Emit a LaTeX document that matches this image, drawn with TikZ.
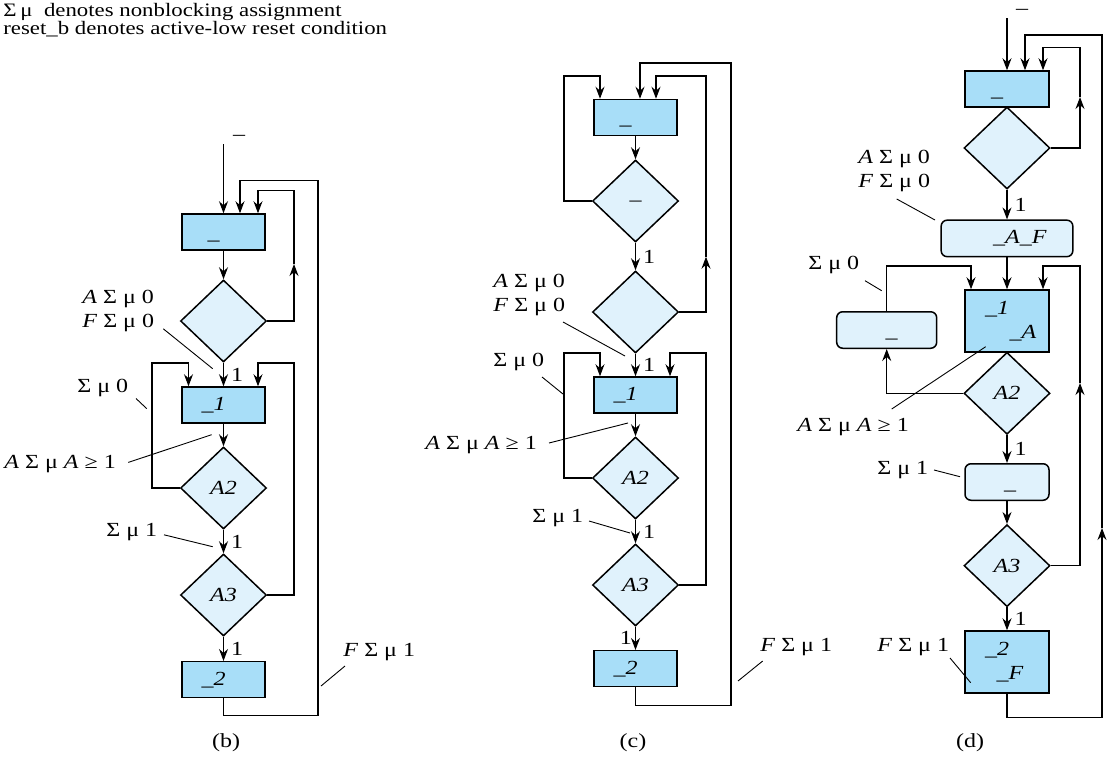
\documentclass[tikz,border=0pt]{standalone}
\usepackage{fontspec}
\setmainfont{Liberation Serif}[FakeStretch=1.2]
\usetikzlibrary{shapes.geometric,arrows.meta}

\definecolor{statefill}{RGB}{168,222,248}
\definecolor{testfill}{RGB}{224,242,252}

\newcommand{\lgap}{\hspace{0.3em}}
\newcommand{\asgn}[1]{Σ\lgap μ\lgap #1}

\tikzset{
  statebox/.style={draw, rectangle, fill=statefill, line width=1.5pt, minimum width=83pt, minimum height=36pt, inner sep=0pt},
  testbox/.style={draw, diamond, fill=testfill, line width=1.5pt, minimum width=86pt, minimum height=82pt, inner sep=0pt},
  condbox/.style={draw, rectangle, rounded corners=6pt, fill=testfill, line width=1.5pt, minimum height=36.5pt, inner sep=0pt},
  lowtext/.style={text height=14pt, text depth=0pt},
  topmark/.style={inner sep=0pt, text height=3pt, text depth=0pt},
  flowarrow/.style={-{Stealth[length=12pt,width=9pt,inset=4pt]}, line width=1.1pt},
  leader/.style={line width=0.9pt},
  note/.style={align=left, inner sep=0pt},
  branch/.style={inner sep=2pt},
}

\begin{document}
\begin{tikzpicture}[x=1pt, y=-1pt, thick, every node/.style={font=\fontsize{20}{24}\selectfont}]
\useasboundingbox (0,0) rectangle (1109,758);

\node (legend) [note, anchor=north west, font=\fontsize{19}{18.3}\selectfont] at (3,3) {Σ\hspace{0.2em}μ\hspace{0.6em}denotes nonblocking assignment\\reset\_b denotes active-low reset condition};

% ---------------- (b) ----------------
\node (b0) [statebox, lowtext] at (223.5,232) {\_\hspace*{20pt}};
\node (bd0) [testbox, below of=b0, node distance=89pt] {};
\node (b1) [statebox, below of=bd0, node distance=84pt] {\textit{\_1}\hspace*{20pt}};
\node (bA2) [testbox, below of=b1, node distance=83pt] {\textit{A2}};
\node (bA3) [testbox, below of=bA2, node distance=107pt] {\textit{A3}};
\node (b2) [statebox, below of=bA3, node distance=84.7pt] {\textit{\_2}\hspace*{20pt}};
\node (bin) [topmark] at (239,139) {–};
\coordinate (bstart) at (223.5,144);

\draw[flowarrow] (bstart) -- (b0);
\draw[flowarrow] (b0) -- (bd0);
\draw[flowarrow] (bd0.east) -| (294,264);
\draw[flowarrow] (294,264) -- (294,190.5) -| ([xshift=34.5pt]b0.north);
\draw[flowarrow] (bd0) -- node[branch, right, xshift=5pt] {1} (b1);
\draw[flowarrow] (b1) -- (bA2);
\draw[flowarrow] (bA2.west) -| (152,363) -| ([xshift=-35pt]b1.north);
\draw[flowarrow] (bA2) -- node[branch, right, xshift=5pt] {1} (bA3);
\draw[flowarrow] (bA3.east) -| (294,363) -| ([xshift=34.5pt]b1.north);
\draw[flowarrow] (bA3) -- node[branch, right, xshift=5pt] {1} (b2);
\draw[flowarrow] (b2.south) -- ++(0,17) -| (318,180.2) -| ([xshift=16.5pt]b0.north);

\node (bAF) [note, anchor=west] at (82,311) {\textit{A}\lgap\asgn{0}\\\textit{F}\lgap\asgn{0}};
\node (bR0) [note, anchor=west] at (77,388) {\asgn{0}};
\node (bCnt) [note, anchor=west] at (4,463.6) {\textit{A}\lgap\asgn{\textit{A}}\lgap≥\lgap 1};
\node (bS1) [note, anchor=west] at (106,531.6) {\asgn{1}};
\node (bF1) [note, anchor=west] at (343,652) {\textit{F}\lgap\asgn{1}};
\draw[leader] (bAF.west) ++(81.3,17.8) -- (212.7,368.7);
\draw[leader] (bR0.west) ++(59,10.5) -- (146.7,408.6);
\draw[leader] (bCnt.west) ++(124.3,-1.2) -- (211.7,434.7);
\draw[leader] (bS1.west) ++(58,3.2) -- (212.7,546.7);
\draw[leader] (bF1.west) ++(2,14) -- (321,686);
\node (bcap) at (226,743) {(b)};

% ---------------- (c) ----------------
\node (c0) [statebox, lowtext] at (635.5,117.5) {\_\hspace*{20pt}};
\node (cd0) [testbox, below of=c0, node distance=83.5pt] {\_};
\node (cd1) [testbox, below of=cd0, node distance=111pt] {};
\node (c1) [statebox, below of=cd1, node distance=83pt] {\textit{\_1}\hspace*{20pt}};
\node (cA2) [testbox, below of=c1, node distance=83pt] {\textit{A2}};
\node (cA3) [testbox, below of=cA2, node distance=107pt] {\textit{A3}};
\node (c2) [statebox, below of=cA3, node distance=83.7pt] {\textit{\_2}\hspace*{20pt}};

\draw[flowarrow] (c0) -- (cd0);
\draw[flowarrow] (cd0.west) -| (564,76) -| ([xshift=-35.5pt]c0.north);
\draw[flowarrow] (cd0) -- node[branch, right, xshift=5pt] {1} (cd1);
\draw[flowarrow] (cd1.east) -| (706,256.7);
\draw[flowarrow] (706,256.7) -- (706,76) -| ([xshift=20.5pt]c0.north);
\draw[flowarrow] (cd1) -- node[branch, right, xshift=5pt] {1} (c1);
\draw[flowarrow] (c1) -- (cA2);
\draw[flowarrow] (cA2.west) -| (564,353) -| ([xshift=-35.5pt]c1.north);
\draw[flowarrow] (cA2) -- node[branch, right, xshift=5pt] {1} (cA3);
\draw[flowarrow] (cA3.east) -| (706,353) -| ([xshift=34.5pt]c1.north);
\draw[flowarrow] (cA3) -- node[branch, left, xshift=-1pt] {1} (c2);
\draw[flowarrow] (c2.south) -- ++(0,18.3) -| (731,63) -| ([xshift=4.5pt]c0.north);

\node (cAF) [note, anchor=west] at (493,295) {\textit{A}\lgap\asgn{0}\\\textit{F}\lgap\asgn{0}};
\node (cR0) [note, anchor=west] at (493,362) {\asgn{0}};
\node (cCnt) [note, anchor=west] at (425,445) {\textit{A}\lgap\asgn{\textit{A}}\lgap≥\lgap 1};
\node (cS1) [note, anchor=west] at (532,518) {\asgn{1}};
\node (cF1) [note, anchor=west] at (760,647) {\textit{F}\lgap\asgn{1}};
\draw[leader] (cAF.west) ++(70,27) -- (625,356);
\draw[leader] (cR0.west) ++(49,15) -- (563,394);
\draw[leader] (cCnt.west) ++(124,-2) -- (628,423);
\draw[leader] (cS1.west) ++(57,3) -- (630,533);
\draw[leader] (cF1.west) ++(2.7,14) -- (738,681);
\node (ccap) at (633,743) {(c)};

% ---------------- (d) ----------------
\node (d0) [statebox, lowtext, minimum width=84pt] at (1007,89) {\_\hspace*{20pt}};
\node (dd0) [testbox, below of=d0, node distance=59pt] {};
\node (dAF) [condbox, minimum width=131.7pt, below of=dd0, node distance=90.4pt] {\hspace*{26pt}\textit{\_A\_F}};
\node (d1) [statebox, minimum width=84pt, minimum height=62pt, align=center, below of=dAF, node distance=82.6pt] {\textit{\_1}\hspace*{20pt}\\\hspace*{32pt}\textit{\_A}};
\node (dR) [condbox, lowtext, minimum width=100pt] at (886.7,330) {\hspace*{10pt}\_};
\node (dA2) [testbox, below of=d1, node distance=72.3pt] {\textit{A2}};
\node (dS) [condbox, lowtext, minimum width=84pt, below of=dA2, node distance=88.7pt] {\hspace*{6pt}\_};
\node (dA3) [testbox, below of=dS, node distance=83.7pt] {\textit{A3}};
\node (d2) [statebox, minimum width=84pt, minimum height=62pt, align=center, below of=dA3, node distance=96.3pt] {\textit{\_2}\hspace*{20pt}\\\hspace*{6pt}\textit{\_F}};
\node (din) [topmark] at (1022,12.5) {–};
\coordinate (dstart) at (1007,18);

\draw[flowarrow] (dstart) -- (d0);
\draw[flowarrow] (dd0.east) -| (1080,97);
\draw[flowarrow] (1080,97) -- (1080,47.7) -| ([xshift=36pt]d0.north);
\draw[flowarrow] (dd0) -- node[branch, right, xshift=5pt] {1} (dAF);
\draw[flowarrow] (dAF) -- (d1);
\draw[flowarrow] (dR.north) -- (886.7,266) -| ([xshift=-36pt]d1.north);
\draw[flowarrow] (dA2.west) -| (dR.south);
\draw[flowarrow] (dA2) -- node[branch, right, xshift=5pt] {1} (dS);
\draw[flowarrow] (dS) -- (dA3);
\draw[flowarrow] (dA3.east) -| (1080,383);
\draw[flowarrow] (1080,383) -- (1080,266) -| ([xshift=36pt]d1.north);
\draw[flowarrow] (dA3) -- node[branch, right, xshift=5pt] {1} (d2);
\draw[flowarrow] (d2.south) -- ++(0,24) -| (1102,528);
\draw[flowarrow] (1102,528) -- (1102,35) -| ([xshift=18pt]d0.north);

\node (dAFl) [note, anchor=west] at (858,171) {\textit{A}\lgap\asgn{0}\\\textit{F}\lgap\asgn{0}};
\node (dR0) [note, anchor=west] at (808,265) {\asgn{0}};
\node (dCnt) [note, anchor=west] at (797,427) {\textit{A}\lgap\asgn{\textit{A}}\lgap≥\lgap 1};
\node (dS1) [note, anchor=west] at (877,470) {\asgn{1}};
\node (dF1) [note, anchor=west] at (877,647) {\textit{F}\lgap\asgn{1}};
\draw[leader] (dAFl.west) ++(38.7,28) -- (935,220);
\draw[leader] (dR0.west) ++(57,15.7) -- (881.7,290.7);
\draw[leader] (dCnt.west) ++(94.7,-18) -- (985.7,346.7);
\draw[leader] (dS1.west) ++(57,0) -- (960,476.7);
\draw[leader] (dF1.west) ++(73,11) -- (970.7,682.7);
\node (dcap) at (970,743) {(d)};
\end{tikzpicture}
\end{document}
